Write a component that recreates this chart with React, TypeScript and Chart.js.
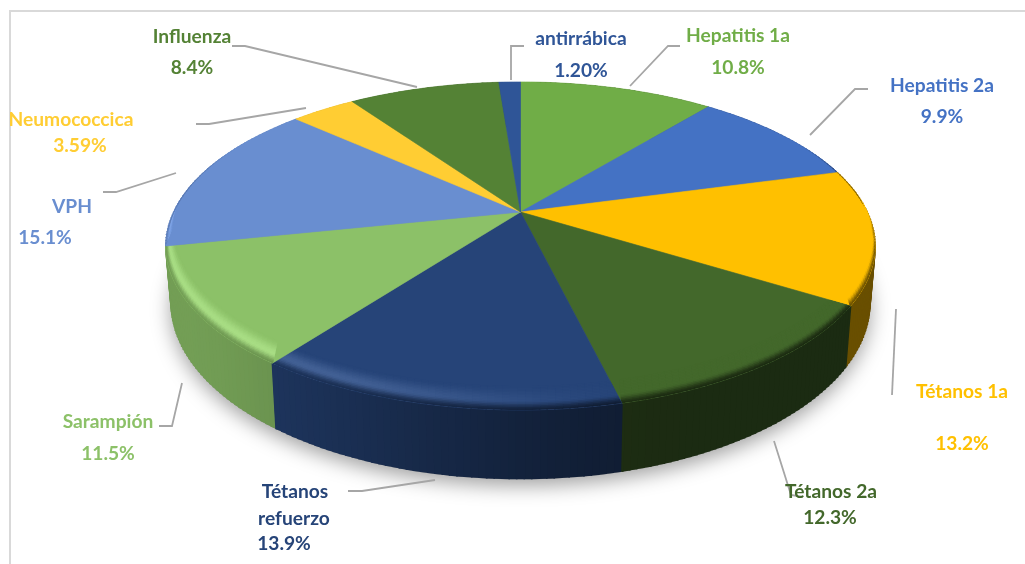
import React, { useEffect, useRef } from "react";
import { Chart, registerables } from "chart.js";

Chart.register(...registerables);

const categories = ["Hepatitis 1a", "Hepatitis 2a", "Tétanos 1a", "Tétanos 2a", "Tétanos refuerzo", "Sarampión", "VPH", "Neumococcica", "Influenza", "antirrábica"];
const shares = [10.8, 9.9, 13.2, 12.3, 13.9, 11.5, 15.1, 3.59, 8.4, 1.2];
const shareLabels = ["10.8%", "9.9%", "13.2%", "12.3%", "13.9%", "11.5%", "15.1%", "3.59%", "8.4%", "1.20%"];
const sliceColors = ["#70AD47", "#4472C4", "#FFC000", "#43682B", "#264478", "#8CC168", "#698ED0", "#FFCD33", "#548235", "#2F5597"];

// label layout: [text, centre x, centre y] per line
const labelLayout: [string, number, number][][] = [
  [["Hepatitis 1a", 738, 36], ["10.8%", 738, 68]],
  [["Hepatitis 2a", 942, 86], ["9.9%", 942, 117]],
  [["Tétanos 1a", 962, 392], ["13.2%", 962, 444]],
  [["Tétanos 2a", 831, 492], ["12.3%", 830, 518]],
  [["Tétanos", 295, 492], ["refuerzo", 294, 519], ["13.9%", 284, 544]],
  [["Sarampión", 108, 422], ["11.5%", 108, 454]],
  [["VPH", 72, 207], ["15.1%", 45, 238]],
  [["Neumococcica", 71, 120], ["3.59%", 80, 146]],
  [["Influenza", 192, 37], ["8.4%", 192, 68]],
  [["antirrábica", 581, 39], ["1.20%", 581, 71]],
];
const leaderLayout: number[][][] = [
  [[680, 46], [668, 46], [630, 86]],
  [[868, 89], [855, 89], [810, 135]],
  [[896, 309], [892, 395]],
  [[774, 441], [791, 495], [803, 497]],
  [[348, 491], [362, 491], [435, 480]],
  [[159, 426], [172, 426], [182, 383]],
  [[103, 192], [116, 192], [176, 173]],
  [[196, 124], [209, 124], [306, 108]],
  [[232, 46], [245, 46], [417, 87]],
  [[524, 46], [511, 46], [511, 80]],
];

const CX = 520.5, CY = 212, RX = 347, RY = 157, K = 0.207, DEPTH = 55, BEVEL = 19, BEVEL_SIDE = 8;
const STEP = Math.PI / 180;

const project = (a: number) => {
  const u = Math.cos(a), v = Math.sin(a), w = 1 - K * v;
  return { x: CX + (RX * u) / w, y: CY + (RY * v) / w, u, v, w };
};
const lower = (a: number) => {
  const p = project(a);
  return { x: CX + (p.x - CX) * 0.985, y: p.y + DEPTH / p.w };
};
const smooth = (t: number) => {
  const c = Math.max(0, Math.min(1, t));
  return c * c * (3 - 2 * c);
};
const hexRgb = (h: string) => [1, 3, 5].map((i) => parseInt(h.slice(i, i + 2), 16));
const mix = (a: number[], b: number[], t: number) => a.map((x, i) => x + (b[i] - x) * t);
const css = (c: number[]) => `rgb(${c.map((x) => Math.round(Math.min(255, x))).join(",")})`;
const wallFactor = (u: number) => 0.41 + 0.41 * smooth((0.4 - u) / 1.3);

function arcAngles(start: number, end: number) {
  const out: number[] = [];
  for (let a = start; a < end; a += STEP) out.push(a);
  out.push(end);
  return out;
}

const pie3d = {
  id: "pie3d",
  beforeDatasetsDraw(chart: any) {
    const ctx: CanvasRenderingContext2D = chart.ctx;
    const arcs = chart.getDatasetMeta(0).data;
    const colors: string[] = chart.data.datasets[0].backgroundColor;

    // frame
    ctx.save();
    ctx.strokeStyle = "#D9D9D9";
    ctx.lineWidth = 2;
    ctx.beginPath();
    ctx.moveTo(10, 564);
    ctx.lineTo(10, 11);
    ctx.lineTo(1025, 11);
    ctx.stroke();
    ctx.restore();

    // soft shadow under the disc
    ctx.save();
    ctx.shadowColor = "rgba(0,0,0,0.38)";
    ctx.shadowBlur = 20;
    ctx.shadowOffsetY = 6;
    ctx.fillStyle = "#888";
    ctx.beginPath();
    arcAngles(0, Math.PI * 2).forEach((a, i) => {
      const b = lower(a);
      if (i) ctx.lineTo(b.x, b.y);
      else ctx.moveTo(b.x, b.y);
    });
    ctx.closePath();
    ctx.fill();
    ctx.restore();

    // wall: back-to-front so nearer slices cover farther ones
    const segments: { a0: number; a1: number; base: number[]; v: number }[] = [];
    arcs.forEach((arc: any, i: number) => {
      const base = hexRgb(colors[i]);
      const angles = arcAngles(arc.startAngle, arc.endAngle);
      for (let j = 0; j < angles.length - 1; j++) {
        segments.push({ a0: angles[j], a1: angles[j + 1], base, v: Math.sin((angles[j] + angles[j + 1]) / 2) });
      }
    });
    segments.sort((s, t) => s.v - t.v);
    segments.forEach(({ a0, a1, base }) => {
      const p0 = project(a0), p1 = project(a1), b0 = lower(a0), b1 = lower(a1);
      const f = wallFactor((p0.u + p1.u) / 2);
      ctx.fillStyle = css(base.map((x) => x * f));
      // widen each quad sideways a little so no seam shows between neighbours
      const d = p1.x >= p0.x ? 0.8 : -0.8;
      ctx.beginPath();
      ctx.moveTo(p0.x - d, p0.y);
      ctx.lineTo(p1.x + d, p1.y);
      ctx.lineTo(b1.x + d, b1.y);
      ctx.lineTo(b0.x - d, b0.y);
      ctx.closePath();
      ctx.fill();
    });

    arcs.forEach((arc: any, i: number) => {
      const base = hexRgb(colors[i]);
      const angles = arcAngles(arc.startAngle, arc.endAngle);
      const path = new Path2D();
      path.moveTo(CX, CY);
      angles.forEach((a) => {
        const p = project(a);
        path.lineTo(p.x, p.y);
      });
      path.closePath();
      ctx.fillStyle = colors[i];
      ctx.strokeStyle = colors[i];
      ctx.lineWidth = 0.6;
      ctx.fill(path);
      ctx.stroke(path);

      // rounded edge of the top face
      ctx.save();
      ctx.clip(path);
      const N = 16;
      for (let j = 0; j < angles.length - 1; j++) {
        const a0 = angles[j], a1 = angles[j + 1];
        const p0 = project(a0), p1 = project(a1);
        const um = (p0.u + p1.u) / 2, vm = (p0.v + p1.v) / 2;
        const s = smooth((vm + 0.5) / 0.35);
        if (s <= 0) continue;
        const L = 28 * smooth((0.3 - um) / 0.8);
        const light = base.map((x) => x + L);
        const wall = base.map((x) => x * wallFactor(um));
        const d = p1.x >= p0.x ? 0.8 : -0.8;
        const at = (p: any, t: number) => {
          const q = 1 - t;
          return [p.x - BEVEL_SIDE * p.u * q, p.y - (BEVEL * q) / p.w];
        };
        for (let k = 0; k < N; k++) {
          const t0 = k / N, t1 = (k + 1) / N + 0.03, tm = (k + 0.5) / N;
          const prof = tm < 0.6 ? mix(base, light, smooth(tm / 0.6)) : mix(light, wall, smooth((tm - 0.6) / 0.4));
          ctx.fillStyle = css(mix(base, prof, s));
          const [ax, ay] = at(p0, t0), [bx, by] = at(p1, t0), [cx, cy] = at(p1, t1), [ex, ey] = at(p0, t1);
          ctx.beginPath();
          ctx.moveTo(ax - d, ay);
          ctx.lineTo(bx + d, by);
          ctx.lineTo(cx + d, cy);
          ctx.lineTo(ex - d, ey);
          ctx.closePath();
          ctx.fill();
        }
      }
      ctx.restore();
    });
    return false;
  },
  afterDraw(chart: any) {
    const ctx: CanvasRenderingContext2D = chart.ctx;
    const colors: string[] = chart.data.datasets[0].backgroundColor;
    ctx.save();
    ctx.strokeStyle = "#A6A6A6";
    ctx.lineWidth = 1.8;
    leaderLayout.forEach((pts) => {
      ctx.beginPath();
      pts.forEach(([x, y], i) => (i ? ctx.lineTo(x, y) : ctx.moveTo(x, y)));
      ctx.stroke();
    });
    ctx.font = 'bold 19.2px Lato, "Open Sans", sans-serif';
    ctx.textAlign = "center";
    ctx.textBaseline = "middle";
    labelLayout.forEach((lines, i) => {
      ctx.fillStyle = colors[i];
      lines.forEach(([text, x, y]) => ctx.fillText(text, x, y));
    });
    ctx.restore();
  },
};

export default function App() {
  const ref = useRef<HTMLCanvasElement>(null);
  useEffect(() => {
    const chart = new Chart(ref.current as HTMLCanvasElement, {
      type: "pie",
      data: {
        labels: categories.map((c, i) => `${c} ${shareLabels[i]}`),
        datasets: [{ data: shares, backgroundColor: sliceColors, borderWidth: 0 }],
      },
      options: {
        responsive: false,
        animation: false,
        plugins: { legend: { display: false }, tooltip: { enabled: false } },
      },
      plugins: [pie3d as any],
    });
    return () => chart.destroy();
  }, []);
  return (
    <canvas
      ref={ref}
      width={1025}
      height={564}
      style={{ position: "absolute", left: 0, top: 0, display: "block", background: "#fff" }}
    />
  );
}
